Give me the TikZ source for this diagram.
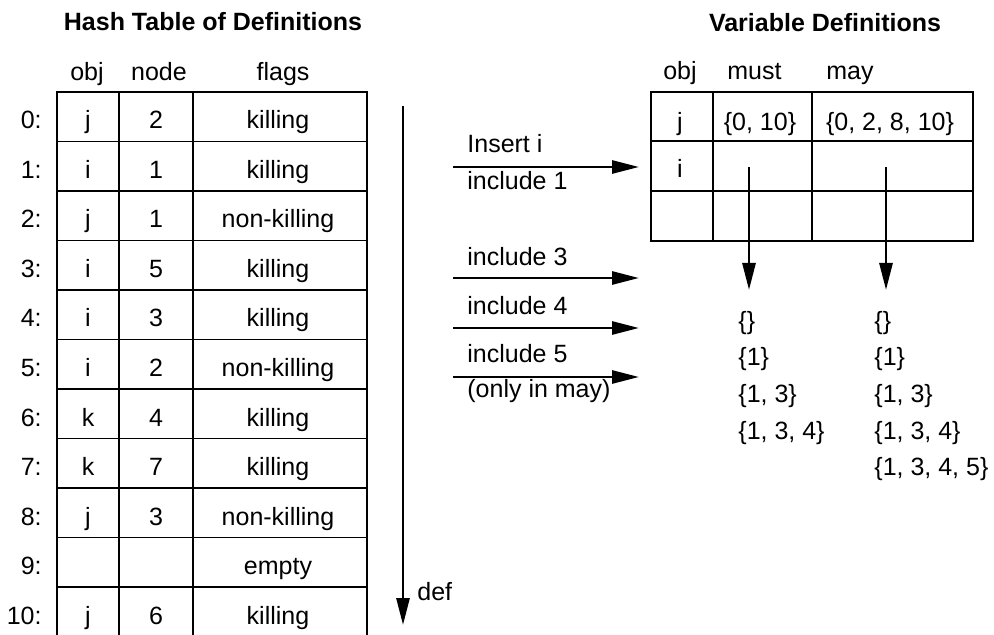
\documentclass[tikz,border=0pt]{standalone}
\usepackage{fontspec}
\setmainfont{Liberation Sans}
\usetikzlibrary{arrows.meta}

\begin{document}
\begin{tikzpicture}[x=0.5pt, y=-0.5pt,
    txt/.style={font=\fontsize{12.5}{15}\selectfont, inner sep=0pt, anchor=base},
    lefttxt/.style={txt, anchor=base west},
    title/.style={txt, font=\fontsize{12.5}{15}\selectfont\bfseries},
    thin/.style={draw=black, line width=0.6pt},
    frame/.style={draw=black, line width=1.1pt},
    arrow/.style={-{Triangle[length=13.5pt, width=6.5pt]}, line width=1.4pt, draw=black}
]
    \useasboundingbox (0,0) rectangle (994,635);

    % Titles
    \node[title] (hashtitle) at (213,31) {Hash Table of Definitions};
    \node[title] (vartitle) at (825,32) {Variable Definitions};

    % Hash table
    \node[txt] (hobj) at (87,81) {obj};
    \node[txt] (hnode) at (159,81) {node};
    \node[txt] (hflags) at (283,81) {flags};
    \foreach \r in {1,...,10}
        \draw[thin] (57,{92+49.5*\r}) -- (367,{92+49.5*\r});
    \draw[thin] (119,92) -- (119,635);
    \draw[thin] (193,92) -- (193,635);
    \draw[frame] (57,635) -- (57,92) -- (367,92) -- (367,635);
    \foreach \i/\ob/\nd/\fl in {0/j/2/killing, 1/i/1/killing, 2/j/1/non-killing, 3/i/5/killing,
                               4/i/3/killing, 5/i/2/non-killing, 6/k/4/killing, 7/k/7/killing,
                               8/j/3/non-killing, 9/{}/{}/empty, 10/j/6/killing} {
        \node[txt, anchor=base east] (idx\i) at (42,{129+49.5*\i}) {\i:};
        \node[txt] (obj\i) at (88,{129+49.5*\i}) {\ob};
        \node[txt] (num\i) at (156,{129+49.5*\i}) {\nd};
        \node[txt] (flag\i) at (278,{129+49.5*\i}) {\fl};
    }

    % Definition order
    \coordinate (deftop) at (403,106);
    \coordinate (defend) at (403,625);
    \node[lefttxt] (def) at (417,600) {def};

    % Variable table
    \node[txt] (vobj) at (680,80) {obj};
    \node[lefttxt] (vmust) at (727,80) {must};
    \node[lefttxt] (vmay) at (826,80) {may};
    \draw[thin] (651,141) -- (973,141);
    \draw[thin] (651,191) -- (973,191);
    \draw[thin] (713,92) -- (713,241);
    \draw[thin] (812,92) -- (812,241);
    \draw[frame] (651,92) rectangle (973,241);
    \node[txt] (vj) at (680,131) {j};
    \node[txt] (jmust) at (760,131) {\{0, 10\}};
    \node[txt] (jmay) at (890,131) {\{0, 2, 8, 10\}};
    \node[txt] (vi) at (680,178) {i};

    % Operations
    \node[lefttxt] (insert) at (467,153) {Insert i};
    \node[lefttxt] (inc1) at (467,190) {include 1};
    \node[lefttxt] (inc3) at (467,266) {include 3};
    \node[lefttxt] (inc4) at (467,315) {include 4};
    \node[lefttxt] (inc5) at (467,363) {include 5};
    \node[lefttxt] (onlymay) at (467,398) {(only in may)};
    \foreach \k/\y in {a/167, b/278, c/328, d/377} {
        \coordinate (op\k) at (453,\y);
        \coordinate (tip\k) at (639,\y);
    }

    % Sets
    \foreach \k/\s in {0/{\{\}}, 1/{\{1\}}, 2/{\{1, 3\}}, 3/{\{1, 3, 4\}}}
        \node[lefttxt] (must\k) at (738,{329.5+36.5*\k}) {\s};
    \foreach \k/\s in {0/{\{\}}, 1/{\{1\}}, 2/{\{1, 3\}}, 3/{\{1, 3, 4\}}, 4/{\{1, 3, 4, 5\}}}
        \node[lefttxt] (may\k) at (874,{329.5+36.5*\k}) {\s};
    \coordinate (mustfrom) at (749,167);
    \coordinate (mustto) at (749,290);
    \coordinate (mayfrom) at (886,167);
    \coordinate (mayto) at (886,290);

    % Arrows
    \draw[arrow] (deftop) -- (defend);
    \draw[arrow] (opa) -- (tipa);
    \draw[arrow] (opb) -- (tipb);
    \draw[arrow] (opc) -- (tipc);
    \draw[arrow] (opd) -- (tipd);
    \draw[arrow] (mustfrom) -- (mustto);
    \draw[arrow] (mayfrom) -- (mayto);
\end{tikzpicture}
\end{document}
